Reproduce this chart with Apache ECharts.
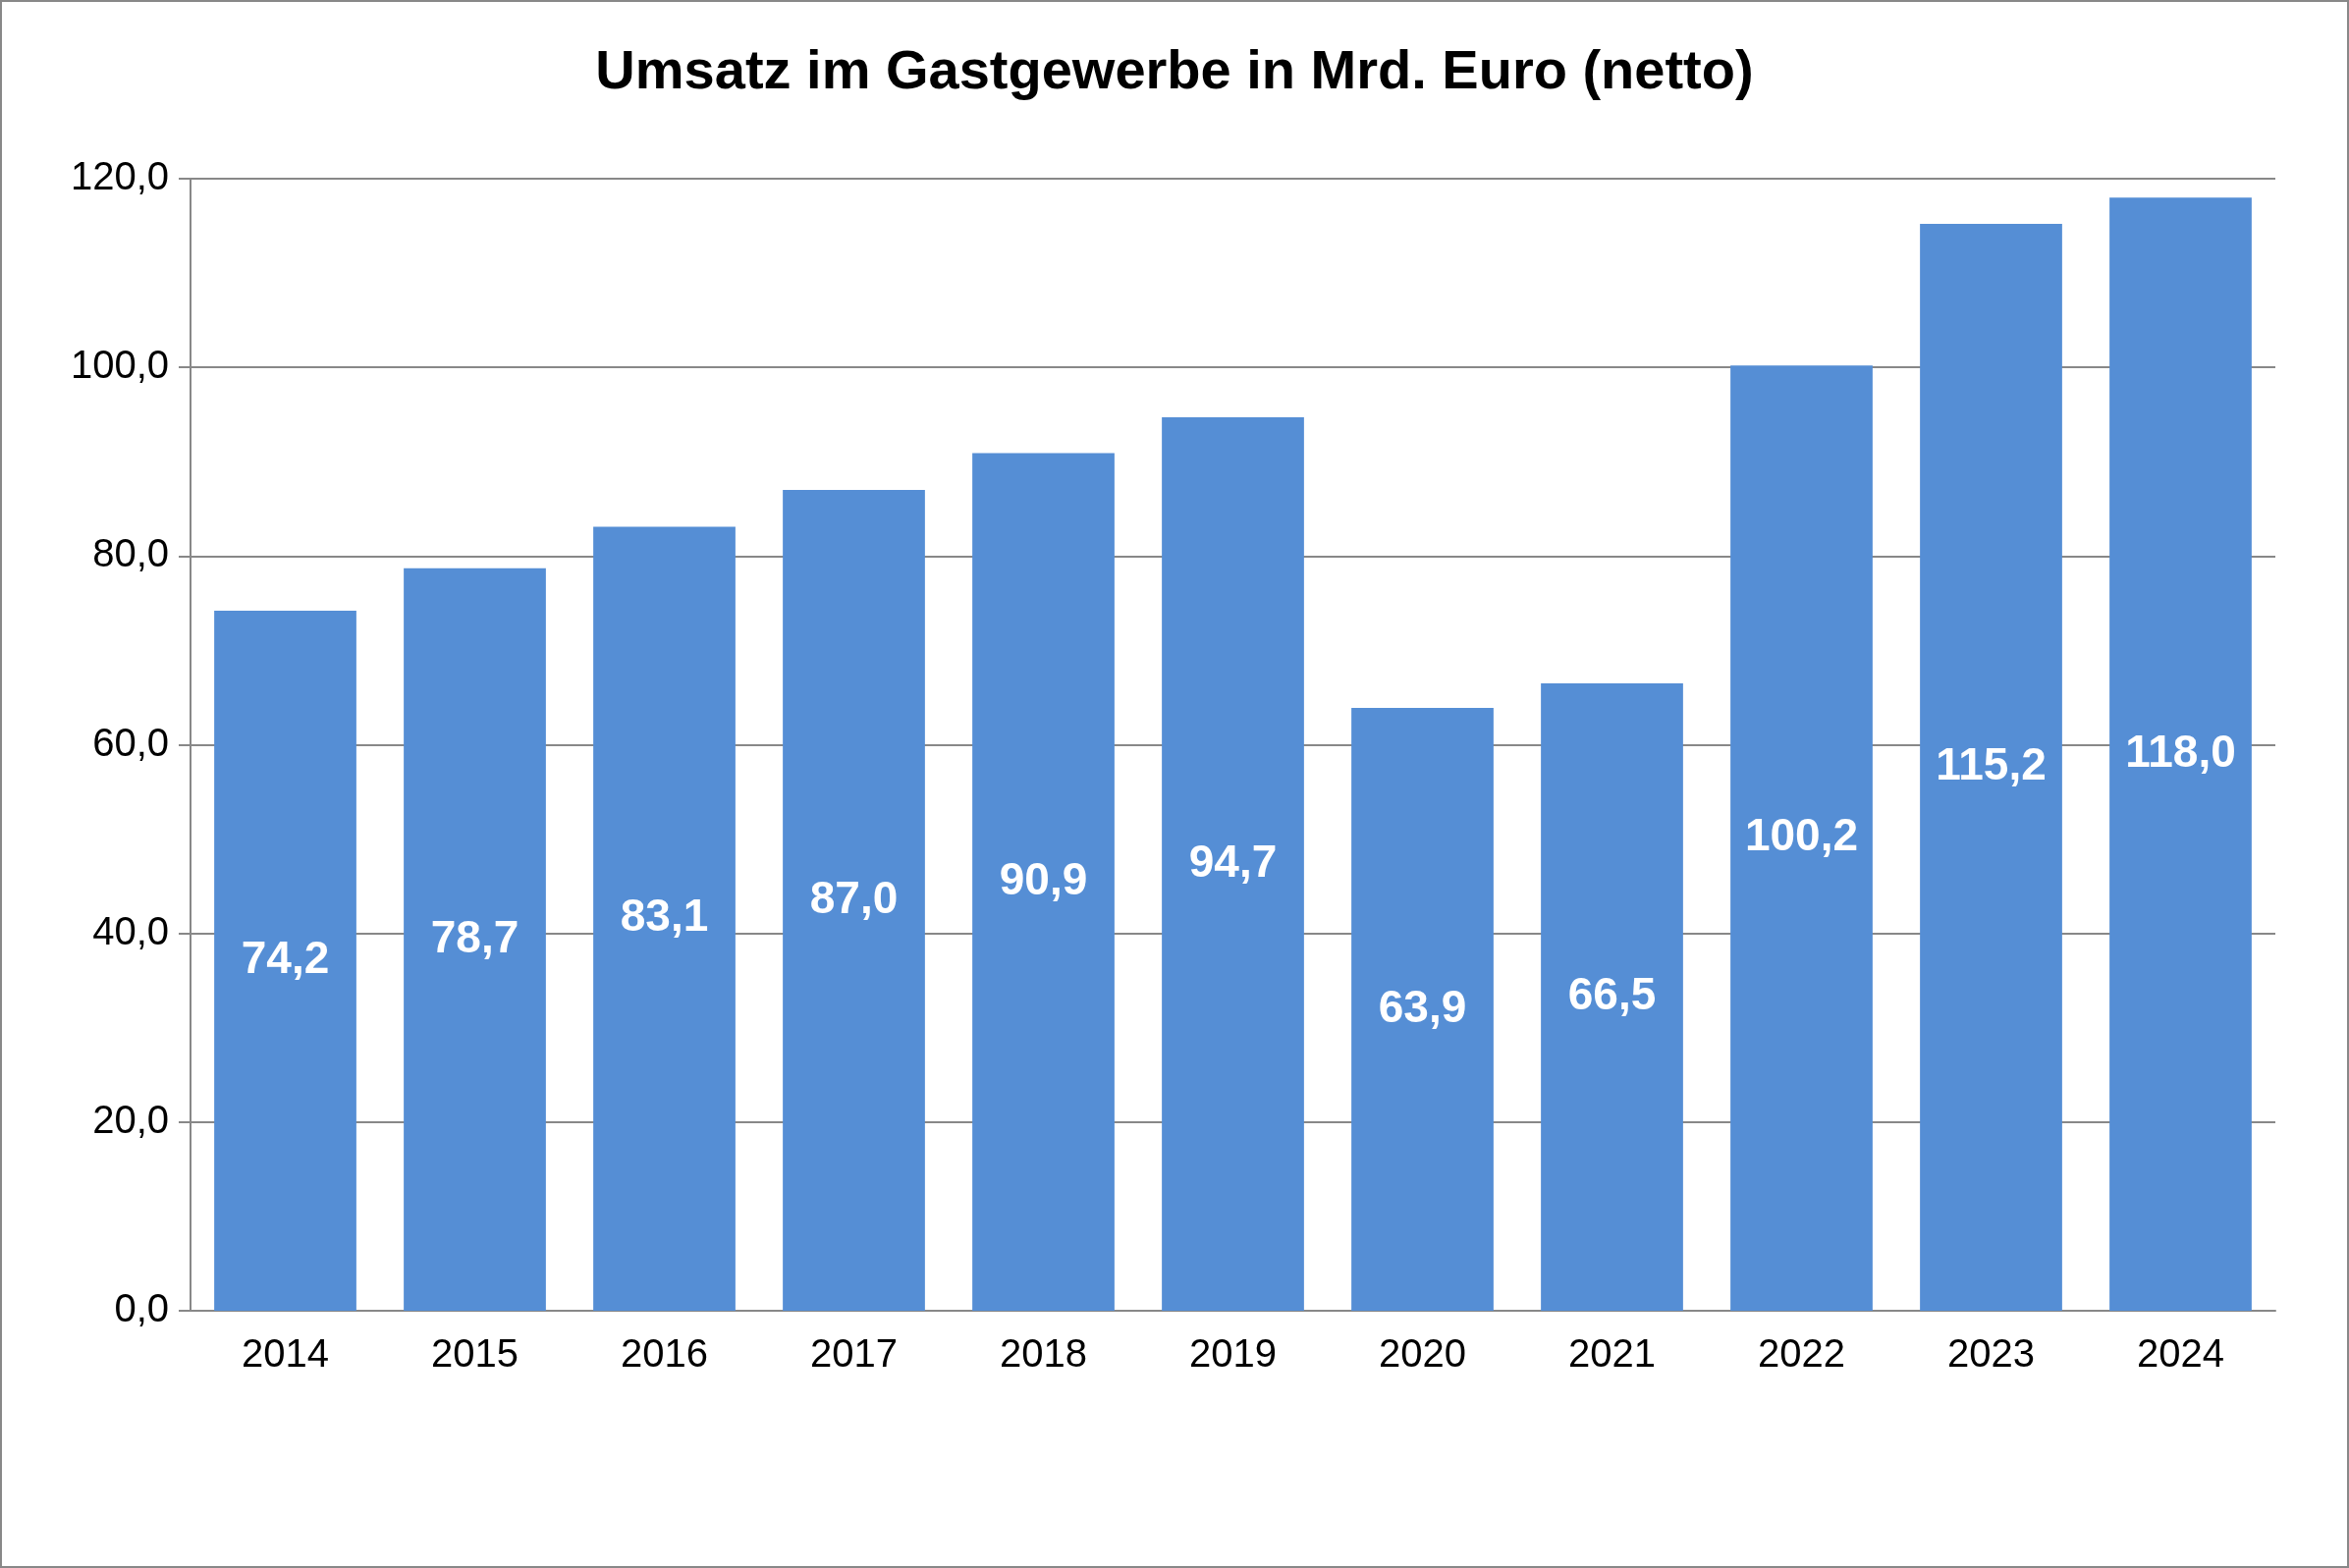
<!DOCTYPE html>
<html lang="de">
<head>
<meta charset="UTF-8">
<title>Umsatz im Gastgewerbe</title>
<style>
  html, body { margin: 0; padding: 0; background: #fff; }
  #chart { width: 2388px; height: 1593px; border: 2px solid #888; }
</style>
<script src="https://cdn.jsdelivr.net/npm/echarts@6/dist/echarts.min.js"></script>
</head>
<body>
<div id="chart"></div>
<script>
var years = ['2014', '2015', '2016', '2017', '2018', '2019', '2020', '2021', '2022', '2023', '2024'];
var umsatz = [74.2, 78.7, 83.1, 87.0, 90.9, 94.7, 63.9, 66.5, 100.2, 115.2, 118.0];

function komma(v) { return v.toFixed(1).replace('.', ','); }

var chart = echarts.init(document.getElementById('chart'));
chart.setOption({
    animation: false,
    textStyle: { fontFamily: 'Liberation Sans, Arial, sans-serif' },
    title: {
        text: 'Umsatz im Gastgewerbe in Mrd. Euro (netto)',
        left: 'center',
        top: 40,
        textStyle: { fontSize: 56, fontWeight: 'bold', color: '#000' }
    },
    grid: { left: 192, right: 73, top: 180, bottom: 260 },
    xAxis: {
        type: 'category',
        data: years,
        axisLine: { lineStyle: { color: '#888', width: 2 } },
        axisTick: { show: false },
        axisLabel: { fontSize: 40, color: '#000', margin: 26 }
    },
    yAxis: {
        type: 'value',
        min: 0, max: 120, interval: 20,
        axisLine: { show: true, lineStyle: { color: '#888', width: 2 } },
        axisTick: { show: true, length: 12, inside: false, lineStyle: { color: '#888', width: 2 } },
        splitLine: { lineStyle: { color: '#888', width: 2 } },
        axisLabel: { fontSize: 40, color: '#000', margin: 22, formatter: function (v) { return komma(v); } }
    },
    series: [{
        type: 'bar',
        data: umsatz,
        barCategoryGap: '25%',
        itemStyle: { color: '#558ED5' },
        label: {
            show: true,
            position: 'inside',
            fontSize: 46,
            fontWeight: 'bold',
            color: '#fff',
            formatter: function (p) { return komma(p.value); }
        }
    }]
});
</script>
</body>
</html>
